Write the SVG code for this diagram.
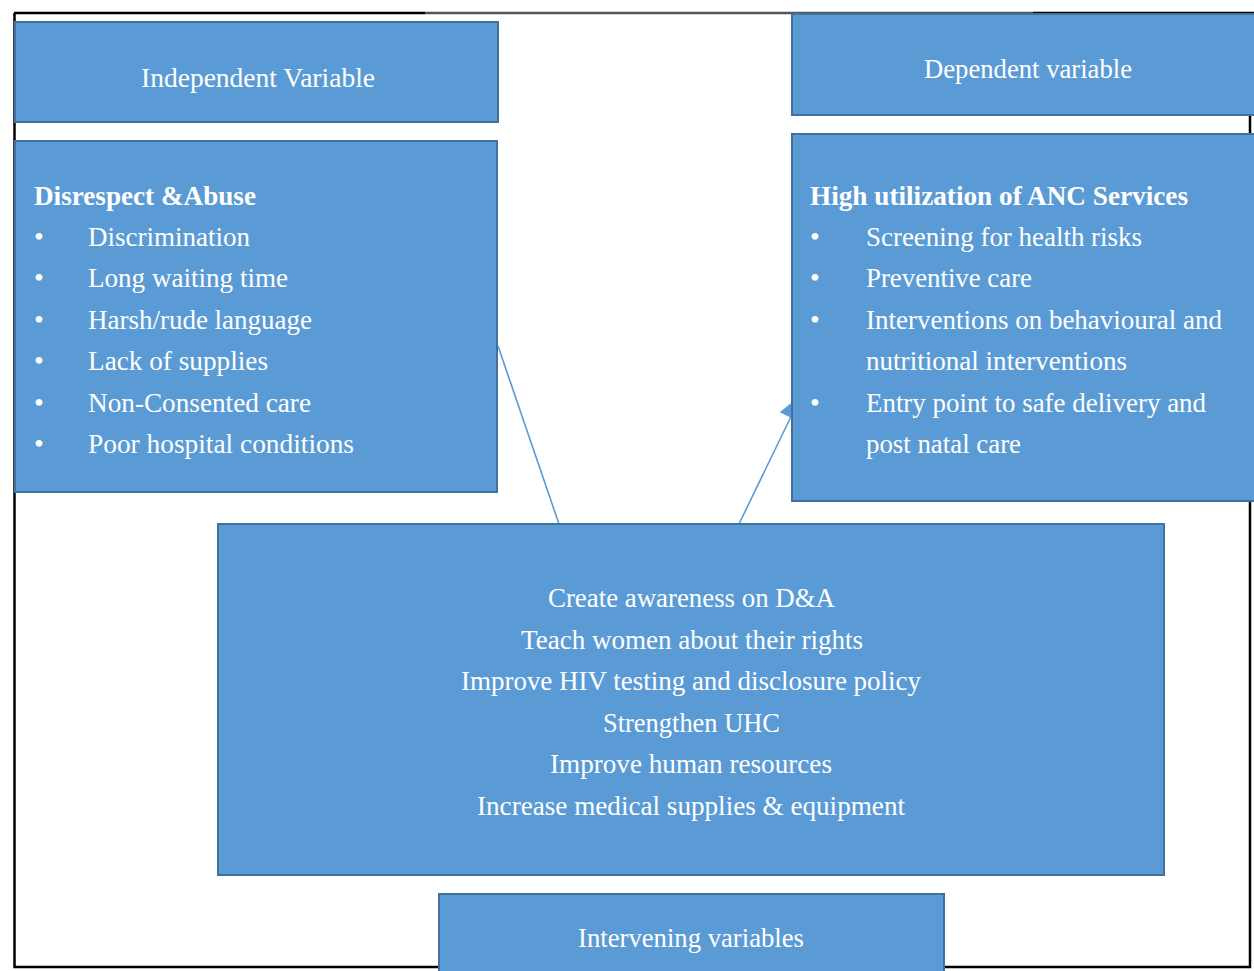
<svg xmlns="http://www.w3.org/2000/svg" width="1254" height="971" viewBox="0 0 1254 971">
  <style>
    .box { fill: #5b9bd5; stroke: #41719c; stroke-width: 2; }
    .t { font-family: "Liberation Serif", "Times New Roman", serif; fill: #ffffff; font-size: 28px; }
    .b { font-weight: bold; }
    .con { stroke: #5b9bd5; stroke-width: 1.6; fill: none; }
    .frame { stroke: #000000; stroke-width: 2.5; fill: none; }
  </style>
  <defs>
    <marker id="arr" markerWidth="26" markerHeight="26" refX="24" refY="13" orient="auto" markerUnits="userSpaceOnUse">
      <path d="M0,1 L26,13 L0,25 Z" fill="#5b9bd5"/>
    </marker>
  </defs>
  <rect width="1254" height="971" fill="#ffffff"/>
  <g id="frame">
    <path class="frame" d="M14.5,13 L14.5,967 L1250,967 L1250,115"/>
    <line x1="14" y1="13" x2="425" y2="13" stroke="#000" stroke-width="2.5"/>
    <line x1="425" y1="13" x2="1033" y2="13" stroke="#555" stroke-width="2.5"/>
    <line x1="1033" y1="13" x2="1254" y2="13" stroke="#000" stroke-width="2.5"/>
  </g>
  <g id="connectors">
    <line class="con" x1="498" y1="346" x2="559" y2="524"/>
    <line class="con" x1="739" y1="524" x2="801" y2="396" marker-end="url(#arr)"/>
  </g>
  <g id="independent-label">
    <rect class="box" x="15" y="22" width="483" height="100"/>
    <text class="t" x="141" y="87" textLength="234" lengthAdjust="spacingAndGlyphs">Independent Variable</text>
  </g>
  <g id="dependent-label">
    <rect class="box" x="792" y="14" width="470" height="101"/>
    <text class="t" x="924" y="78" textLength="208" lengthAdjust="spacingAndGlyphs">Dependent variable</text>
  </g>
  <g id="independent-box">
    <rect class="box" x="15" y="141" width="482" height="351"/>
    <text class="t b" x="34" y="205" textLength="222" lengthAdjust="spacingAndGlyphs">Disrespect &amp;Abuse</text>
    <g class="t">
      <text x="34" y="246">•</text>
      <text x="34" y="287">•</text>
      <text x="34" y="329">•</text>
      <text x="34" y="370">•</text>
      <text x="34" y="412">•</text>
      <text x="34" y="453">•</text>
    </g>
    <text class="t" x="88" y="246" textLength="162" lengthAdjust="spacingAndGlyphs">Discrimination</text>
    <text class="t" x="88" y="287" textLength="200" lengthAdjust="spacingAndGlyphs">Long waiting time</text>
    <text class="t" x="88" y="329" textLength="224" lengthAdjust="spacingAndGlyphs">Harsh/rude language</text>
    <text class="t" x="88" y="370" textLength="180" lengthAdjust="spacingAndGlyphs">Lack of supplies</text>
    <text class="t" x="88" y="412" textLength="223" lengthAdjust="spacingAndGlyphs">Non-Consented care</text>
    <text class="t" x="88" y="453" textLength="266" lengthAdjust="spacingAndGlyphs">Poor hospital conditions</text>
  </g>
  <g id="dependent-box">
    <rect class="box" x="792" y="134" width="470" height="367"/>
    <text class="t b" x="810" y="205" textLength="378" lengthAdjust="spacingAndGlyphs">High utilization  of ANC Services</text>
    <g class="t">
      <text x="810" y="246">•</text>
      <text x="810" y="287">•</text>
      <text x="810" y="329">•</text>
      <text x="810" y="412">•</text>
    </g>
    <text class="t" x="866" y="246" textLength="276" lengthAdjust="spacingAndGlyphs">Screening for health risks</text>
    <text class="t" x="866" y="287" textLength="166" lengthAdjust="spacingAndGlyphs">Preventive care</text>
    <text class="t" x="866" y="329" textLength="356" lengthAdjust="spacingAndGlyphs">Interventions on behavioural and</text>
    <text class="t" x="866" y="370" textLength="261" lengthAdjust="spacingAndGlyphs">nutritional interventions</text>
    <text class="t" x="866" y="412" textLength="340" lengthAdjust="spacingAndGlyphs">Entry point to safe delivery and</text>
    <text class="t" x="866" y="453" textLength="155" lengthAdjust="spacingAndGlyphs">post natal care</text>
  </g>
  <g id="intervening-box">
    <rect class="box" x="218" y="524" width="946" height="351"/>
    <text class="t" x="548" y="607" textLength="287" lengthAdjust="spacingAndGlyphs">Create awareness on D&amp;A</text>
    <text class="t" x="521" y="649" textLength="342" lengthAdjust="spacingAndGlyphs">Teach women about their rights</text>
    <text class="t" x="461" y="690" textLength="460" lengthAdjust="spacingAndGlyphs">Improve HIV testing and disclosure policy</text>
    <text class="t" x="603" y="732" textLength="177" lengthAdjust="spacingAndGlyphs">Strengthen UHC</text>
    <text class="t" x="550" y="773" textLength="282" lengthAdjust="spacingAndGlyphs">Improve human resources</text>
    <text class="t" x="477" y="815" textLength="428" lengthAdjust="spacingAndGlyphs">Increase medical supplies &amp; equipment</text>
  </g>
  <g id="intervening-label">
    <rect class="box" x="439" y="894" width="505" height="90"/>
    <text class="t" x="578" y="947" textLength="226" lengthAdjust="spacingAndGlyphs">Intervening variables</text>
  </g>
</svg>
